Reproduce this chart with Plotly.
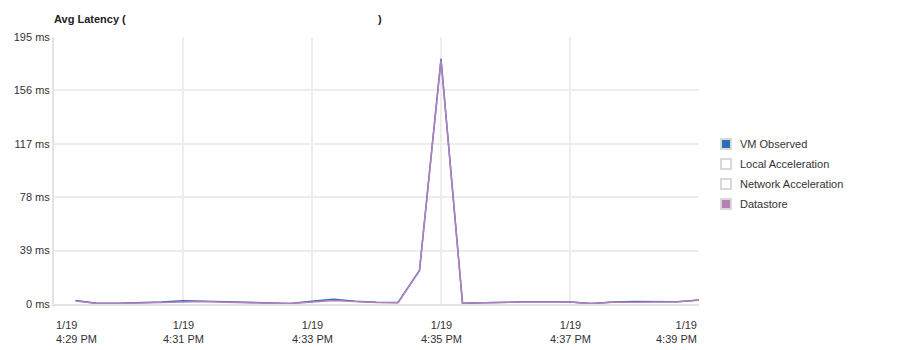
import plotly.graph_objects as go
import pandas as pd

# ---- data ----
times = pd.date_range("2016-01-19 16:29:20", "2016-01-19 16:39:00", freq="20s")
vm_observed = [2.6, 0.5, 0.6, 1.0, 1.4, 2.4, 2.0, 1.5, 1.6, 0.8,
               0.4, 2.0, 3.4, 2.0, 1.2, 1.1, 24.5, 179.0, 0.6, 1.0,
               1.4, 1.6, 1.6, 1.5, 0.3, 1.5, 1.8, 1.6, 1.7, 2.9]
datastore = [2.2, 0.4, 0.4, 0.7, 1.0, 1.8, 1.9, 1.3, 1.2, 0.6,
             0.3, 1.6, 2.6, 1.8, 1.1, 1.0, 24.5, 178.0, 0.5, 0.9,
             1.3, 1.5, 1.5, 1.4, 0.3, 1.3, 1.2, 1.5, 1.6, 2.7]
local_accel = []
network_accel = []

series_names = ["VM Observed", "Local Acceleration", "Network Acceleration", "Datastore"]
series_colors = ["#2a6ebb", "#ffffff", "#ffffff", "#b67fb8"]

y_ticks = [0, 39, 78, 117, 156, 195]
y_tick_labels = [f"{v} ms" for v in y_ticks]
x_ticks = ["2016-01-19 16:29", "2016-01-19 16:31", "2016-01-19 16:33",
           "2016-01-19 16:35", "2016-01-19 16:37", "2016-01-19 16:39"]
x_tick_labels = ["1/19<br>4:29 PM", "1/19<br>4:31 PM", "1/19<br>4:33 PM",
                 "1/19<br>4:35 PM", "1/19<br>4:37 PM", "1/19<br>4:39 PM"]
title_left = "Avg Latency ("
title_right = ")"

FONT = "Liberation Sans, Arial, sans-serif"
TXT = "#333333"
PLOT_W = 645.0
PLOT_H = 267.0

fig = go.Figure()

series_data = [vm_observed, local_accel, network_accel, datastore]
for name, col, data in zip(series_names, series_colors, series_data):
    fig.add_trace(go.Scatter(x=list(times) if data else [], y=data, mode="lines", name=name,
                             line=dict(color=col, width=1.5), showlegend=False,
                             hoverinfo="x+y+name"))

fig.update_layout(
    width=920, height=350,
    margin=dict(l=54, r=221, t=37, b=46),
    paper_bgcolor="white", plot_bgcolor="white",
    font=dict(family=FONT, size=11, color=TXT),
    showlegend=False,
    xaxis=dict(type="date", range=["2016-01-19 16:29", "2016-01-19 16:39"],
               tickvals=x_ticks, showticklabels=False,
               showgrid=True, gridcolor="#ededed", gridwidth=1.5,
               zeroline=False, showline=True, linecolor="#e3e3e3", linewidth=2,
               ticks=""),
    yaxis=dict(range=[0, 195], tickmode="array", tickvals=y_ticks, ticktext=y_tick_labels,
               showgrid=True, gridcolor="#ededed", gridwidth=1.5,
               zeroline=False, showline=True, linecolor="#e3e3e3", linewidth=2,
               ticks="", tickfont=dict(family=FONT, size=11, color=TXT)),
)

# x tick labels (first left-aligned, last right-aligned)
n = len(x_ticks)
for i, (xv, lab) in enumerate(zip(x_ticks, x_tick_labels)):
    anchor = "left" if i == 0 else ("right" if i == n - 1 else "center")
    fig.add_annotation(x=xv, xref="x", y=-0.05, yref="paper", text=lab,
                       showarrow=False, xanchor=anchor, yanchor="top",
                       align=anchor, font=dict(family=FONT, size=11, color=TXT))

# legend: square swatches + labels
for i, (name, col) in enumerate(zip(series_names, series_colors)):
    cy = 144 + 20 * i  # pixel centre
    y0 = (304 - (cy + 6)) / PLOT_H
    y1 = (304 - (cy - 6)) / PLOT_H
    x0 = (720 - 54) / PLOT_W
    x1 = (732 - 54) / PLOT_W
    fig.add_shape(type="rect", xref="paper", yref="paper", x0=x0, x1=x1, y0=y0, y1=y1,
                  fillcolor="#d9d9d9", line=dict(width=0), layer="above")
    fig.add_shape(type="rect", xref="paper", yref="paper",
                  x0=x0 + 2 / PLOT_W, x1=x1 - 2 / PLOT_W,
                  y0=y0 + 2 / PLOT_H, y1=y1 - 2 / PLOT_H,
                  fillcolor=col, line=dict(width=0), layer="above")
    fig.add_annotation(x=(740 - 54) / PLOT_W, xref="paper", xanchor="left",
                       y=(304 - cy) / PLOT_H, yref="paper", yanchor="middle",
                       text=name, showarrow=False, xshift=-2,
                       font=dict(family=FONT, size=11, color=TXT))

# title
fig.add_annotation(x=0, xref="paper", xanchor="left", y=1.0, yref="paper",
                   yshift=10, yanchor="bottom", text="<b>" + title_left + "</b>",
                   showarrow=False, xshift=-2,
                   font=dict(family=FONT, size=11, color="#222222"))
fig.add_annotation(x=(378 - 54) / PLOT_W, xref="paper", xanchor="left", y=1.0, yref="paper",
                   yshift=10, yanchor="bottom", text="<b>" + title_right + "</b>",
                   showarrow=False, xshift=-2,
                   font=dict(family=FONT, size=11, color="#222222"))

fig.write_html("out.html")
